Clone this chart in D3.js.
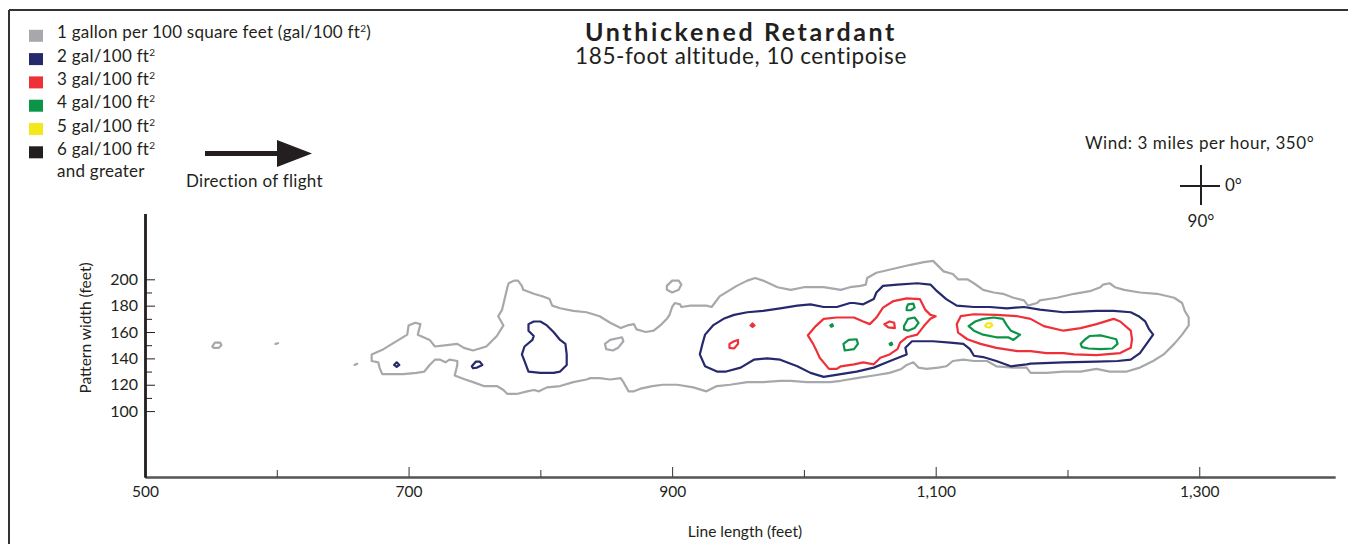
<!DOCTYPE html>
<html>
<head>
<meta charset="utf-8">
<script src="https://cdn.jsdelivr.net/npm/d3@7"></script>
<style>
  body { margin: 0; background: #fff; }
  svg { display: block; font-family: Lato, "Open Sans", sans-serif; }
</style>
</head>
<body>
<div id="chart"></div>
<script>
// contour rings, [line length ft, pattern width ft]
var gray1 = [
  // main outline
  [[672,143],[681,147],[699,158],[700,165],[705,167],[709,166],[707,158],[716,154],[720,149],[729,150],[737,151],[742,148],[749,146],[759,149],[767,157],[772,165],[768,172],[771,177],[775,194],[776,197],[780,199],[783,199],[786,195],[787,192],[795,189],[802,187],[807,185],[809,180],[815,178],[825,176],[835,175],[845,172],[853,167],[861,163],[866,165],[871,166],[873,162],[880,160],[886,161],[891,165],[896,170],[898,173],[900,179],[902,182],[906,181],[907,179],[914,180],[926,180],[930,179],[936,187],[949,195],[957,199],[963,201],[969,199],[980,194],[990,192],[1000,194],[1015,194],[1028,192],[1035,194],[1043,195],[1047,196],[1048,201],[1055,205],[1068,208],[1081,211],[1091,213],[1098,214],[1102,210],[1106,206],[1113,204],[1117,200],[1124,200],[1129,197],[1136,192],[1144,190],[1151,189],[1159,186],[1167,184],[1170,180],[1177,182],[1179,184],[1192,186],[1205,189],[1217,191],[1225,194],[1227,196],[1232,197],[1236,194],[1243,192],[1255,190],[1268,189],[1281,186],[1287,182],[1289,176],[1292,171],[1292,165],[1287,158],[1281,151],[1273,143],[1265,138],[1255,133],[1245,130],[1232,130],[1222,132],[1210,130],[1197,130],[1184,129],[1172,129],[1169,133],[1159,133],[1146,134],[1139,138],[1129,138],[1121,139],[1113,138],[1108,134],[1102,133],[1093,132],[1087,133],[1083,137],[1078,135],[1074,132],[1065,129],[1053,127],[1040,125],[1028,123],[1020,122],[1002,122],[990,123],[982,123],[969,122],[957,122],[944,120],[934,119],[926,115],[916,118],[904,120],[893,120],[885,119],[876,117],[871,115],[867,115],[863,122],[861,125],[853,124],[845,125],[838,125],[835,124],[825,122],[815,119],[805,118],[799,115],[795,116],[790,115],[782,113],[775,113],[772,116],[767,119],[757,119],[749,122],[743,124],[735,127],[737,135],[737,138],[731,139],[728,137],[724,139],[720,139],[716,135],[712,130],[706,129],[696,128],[688,128],[680,128],[678,133],[677,137],[672,138],[672,142]],
  [[551,149],[553,152],[557,152],[558,150],[556,148],[552,148]],
  [[599,151],[601,151.5]],
  [[659,135],[661,136]],
  [[896,195],[900,199],[905,199],[907,196],[905,192],[900,190],[896,192]],
  [[849,151],[853,154],[862,156],[863,153],[859,148],[855,146],[850,147]]
];
var navy2 = [
  [[689,135],[691,137],[693,135],[691,133.5]],
  [[748,134],[751,137.5],[754,137.5],[756,135],[752,133],[749,132.5]],
  [[791,166],[795,168],[800,168],[805,165],[810,160],[815,154],[819,151],[820,143],[820,135],[815,130],[810,129],[800,129],[791,130],[788,138],[786,143],[788,149],[794,154],[795,157],[791,161]],
  [[925,158],[931,165],[939,170],[947,173],[957,175],[969,176],[982,178],[995,180],[1005,181],[1015,179],[1025,179],[1035,182],[1038,182],[1045,181],[1053,185],[1055,190],[1060,195],[1071,196],[1086,197],[1096,196],[1101,191],[1108,185],[1116,180],[1129,179],[1141,179],[1154,178],[1167,179],[1179,177],[1197,175],[1210,175.5],[1222,176],[1235,176],[1248,175],[1254,172],[1259,168],[1262,162],[1265,158],[1260,151],[1255,144],[1248,139],[1238,138],[1222,137.5],[1197,137],[1172,136],[1169,135.5],[1157,134],[1146,138],[1136,141],[1129,142],[1126,147],[1121,151],[1111,152],[1098,153],[1082,153],[1077,148],[1078,143],[1073,141],[1063,137],[1053,133],[1040,130],[1028,128],[1015,126],[1005,129],[995,134],[982,139],[972,140],[962,139],[952,133],[941,130],[934,130],[925,134],[921,143],[923,151]]
];
var red3 = [
  [[959.5,165],[961,166.5],[962.5,165],[961,163.8]],
  [[943.5,151],[947,153],[950,154],[950,151],[947,147.5],[943.5,148]],
  [[1003,157.5],[1009,164.5],[1015,170],[1025,171],[1038,171],[1045,168],[1050,166],[1055,171],[1060,178.5],[1068,183.5],[1078,185.5],[1088,185],[1092,177],[1096,173],[1100,172],[1096,170],[1091,164.5],[1086,158],[1078,156],[1073,152],[1071,147],[1065,143],[1058,140.5],[1053,135.5],[1045,137],[1038,135.5],[1028,134],[1025,132],[1019,132],[1012,140.5],[1009,147],[1007,151]],
  [[1061,166],[1065,168],[1068.5,167],[1069,163],[1064,163.5]],
  [[1119,172],[1129,173.5],[1146,173],[1162,172],[1172,170],[1182,164.5],[1197,161],[1210,163],[1222,166],[1235,170],[1240,168],[1248,161],[1249,154.5],[1248,148],[1240,144],[1222,142.5],[1205,143],[1197,144],[1184,144],[1172,145.5],[1162,145.5],[1146,148],[1134,151],[1124,154.5],[1117,159.5],[1116,166]]
];
var green4 = [
  [[1020,165],[1021.5,166],[1022,164.5],[1020.8,164]],
  [[1065,151],[1066.5,152],[1067,150.5],[1065.8,150]],
  [[1030,151],[1034,154],[1040,154.5],[1041,151],[1038,147],[1031,146]],
  [[1078,178.5],[1079,181],[1083,181.5],[1084,178.5],[1081,176.5],[1078,176.5]],
  [[1076,164.5],[1079,170],[1084,171],[1087,167],[1084,163],[1079,161],[1076,162]],
  [[1125,164.5],[1130,168],[1136,170],[1144,171],[1151,170],[1154,165],[1157,161],[1164,158],[1159,154],[1155,156],[1146,156],[1136,158],[1129,161]],
  [[1210,151],[1213.5,154.5],[1217,157],[1225,157.5],[1231,156],[1237,154.5],[1238,151],[1234,147.5],[1225,147],[1216,147.5],[1211,148.5]]
];
var yellow5 = [
  [[1137.5,165],[1139,166.5],[1142,166.5],[1143,165],[1141,163.5],[1138.5,163.8]]
];

var levelNames = ["1 gallon per 100 square feet (gal/100 ft", "2 gal/100 ft", "3 gal/100 ft", "4 gal/100 ft", "5 gal/100 ft", "6 gal/100 ft"];
var levelTails = [")", "", "", "", "", ""];
var levelColors = ["#a6a8ab", "#262a6c", "#ee3138", "#0c9448", "#f2e81c", "#231f20"];
var contourSets = [gray1, navy2, red3, green4, yellow5];

var xMajor = [500, 700, 900, 1100, 1300];
var xMinor = [600, 800, 1000, 1200];
var yMajor = [100, 120, 140, 160, 180, 200];
var yMinor = [110, 130, 150, 170, 190];

var W = 1348, H = 544;
var svg = d3.select("#chart").append("svg").attr("width", W).attr("height", H);

// frame
svg.append("line").attr("x1", 9).attr("y1", 10).attr("x2", W).attr("y2", 10)
  .attr("stroke", "#333").attr("stroke-width", 2);
svg.append("line").attr("x1", 9).attr("y1", 10).attr("x2", 9).attr("y2", H)
  .attr("stroke", "#333").attr("stroke-width", 2);

var x = d3.scaleLinear().domain([500, 1403]).range([145, 1335]);
var y = d3.scaleLinear().domain([50, 250]).range([477, 213.4]);

/* --------- AXES ---------*/
var fmt = d3.format(",");
var gx = svg.append("g").attr("transform", "translate(0," + y(50) + ")");
gx.call(d3.axisBottom(x).tickValues(xMajor).tickFormat(fmt).tickSize(-10).tickSizeOuter(0).tickPadding(9));
gx.append("g").call(d3.axisBottom(x).tickValues(xMinor).tickFormat("").tickSize(-7).tickSizeOuter(0));
gx.selectAll(".domain").attr("stroke", "#555").attr("stroke-width", 2.2);
gx.selectAll(".tick line").attr("stroke", "#333");
gx.selectAll("text").attr("font-size", 15.5).attr("fill", "#231f20").attr("font-family", "Lato");

var gy = svg.append("g").attr("transform", "translate(" + x(500) + ",0)");
gy.call(d3.axisLeft(y).tickValues(yMajor).tickSize(-10).tickSizeOuter(0).tickPadding(7));
gy.append("g").call(d3.axisLeft(y).tickValues(yMinor).tickFormat("").tickSize(-7).tickSizeOuter(0));
gy.selectAll(".domain").attr("stroke", "#231f20").attr("stroke-width", 2.4);
gy.selectAll(".tick line").attr("stroke", "#231f20");
gy.selectAll("text").attr("font-size", 16).attr("fill", "#231f20").attr("font-family", "Lato");

svg.append("text").attr("x", 745).attr("y", 537).attr("text-anchor", "middle")
  .attr("font-size", 15.5).attr("fill", "#231f20").text("Line length (feet)");
svg.append("text").attr("transform", "translate(91,328) rotate(-90)").attr("text-anchor", "middle")
  .attr("font-size", 15.5).attr("fill", "#231f20").text("Pattern width (feet)");

/* --------- CONTOURS ---------*/
var line = d3.line().x(function (d) { return x(d[0]); }).y(function (d) { return y(d[1]); })
  .curve(d3.curveLinearClosed);
contourSets.forEach(function (rings, i) {
  svg.append("g").attr("class", "level" + (i + 1))
    .selectAll("path").data(rings).enter().append("path")
    .attr("d", line)
    .attr("fill", "none")
    .attr("stroke", levelColors[i])
    .attr("stroke-width", 2.2)
    .attr("stroke-linejoin", "round")
    .attr("stroke-linecap", "round");
});

/* --------- TITLE ---------*/
svg.append("text").attr("x", 741).attr("y", 41).attr("text-anchor", "middle")
  .attr("font-size", 25).attr("font-weight", "bold").attr("letter-spacing", 2.6)
  .attr("fill", "#231f20").text("Unthickened Retardant");
svg.append("text").attr("x", 741).attr("y", 64).attr("text-anchor", "middle")
  .attr("font-size", 22.5).attr("letter-spacing", 0.6).attr("fill", "#231f20").text("185-foot altitude, 10 centipoise");

/* --------- LEGEND ---------*/
var lg = svg.append("g").attr("font-size", 17).attr("letter-spacing", 0.25).attr("fill", "#231f20");
levelNames.forEach(function (name, i) {
  var by = 38.3 + i * 23.3;
  lg.append("rect").attr("x", 29).attr("y", by - 8.5).attr("width", 14).attr("height", 12)
    .attr("fill", levelColors[i]);
  var t = lg.append("text").attr("x", 57).attr("y", by);
  t.append("tspan").text(name);
  t.append("tspan").attr("font-size", 10).attr("dy", -6).text("2");
  if (levelTails[i]) t.append("tspan").attr("dy", 6).text(levelTails[i]);
});
lg.append("text").attr("x", 57).attr("y", 37 + 6 * 23.3).text("and greater");

// direction arrow
svg.append("line").attr("x1", 205).attr("y1", 153.5).attr("x2", 282).attr("y2", 153.5)
  .attr("stroke", "#231f20").attr("stroke-width", 5);
svg.append("path").attr("d", "M277,140 L312,153.5 L277,167 Z").attr("fill", "#231f20");
svg.append("text").attr("x", 186).attr("y", 187).attr("font-size", 17).attr("letter-spacing", 0.3)
  .attr("fill", "#231f20").text("Direction of flight");

// wind
svg.append("text").attr("x", 1085).attr("y", 149).attr("font-size", 17).attr("letter-spacing", 0.55)
  .attr("fill", "#231f20").text("Wind: 3 miles per hour, 350°");
svg.append("line").attr("x1", 1201).attr("y1", 165).attr("x2", 1201).attr("y2", 205)
  .attr("stroke", "#231f20").attr("stroke-width", 2);
svg.append("line").attr("x1", 1180).attr("y1", 186).attr("x2", 1220).attr("y2", 186)
  .attr("stroke", "#231f20").attr("stroke-width", 2);
svg.append("text").attr("x", 1225).attr("y", 191).attr("font-size", 17).attr("fill", "#231f20").text("0°");
svg.append("text").attr("x", 1201).attr("y", 227).attr("text-anchor", "middle").attr("font-size", 17)
  .attr("fill", "#231f20").text("90°");
</script>
</body>
</html>
